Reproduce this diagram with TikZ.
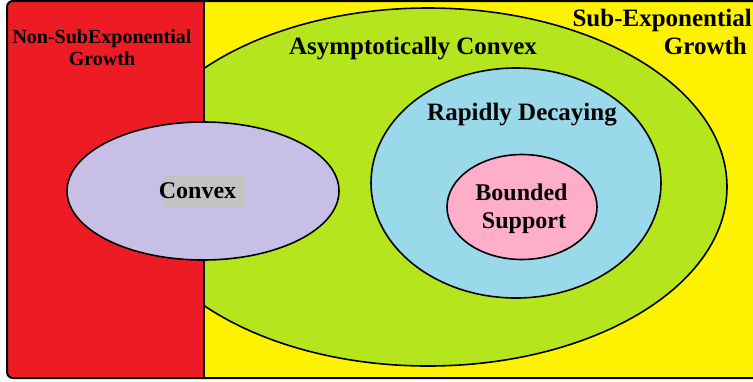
\documentclass[tikz,border=0pt]{standalone}
\usepackage{fontspec}
\setmainfont{Liberation Serif}
\usetikzlibrary{shapes.geometric}

\definecolor{nonred}{HTML}{ED1C24}
\definecolor{subyellow}{HTML}{FFF200}
\definecolor{asygreen}{HTML}{B5E61D}
\definecolor{rapidblue}{HTML}{99D9EA}
\definecolor{boundpink}{HTML}{FFAEC9}
\definecolor{convexlilac}{HTML}{C8BFE7}
\definecolor{boxgray}{HTML}{C3C3C3}

\tikzset{
	region/.style={ellipse, draw=black, line width=1.6pt, inner sep=0pt},
	setname/.style={font=\fontsize{24}{28}\selectfont\bfseries, anchor=base, inner sep=0pt},
	bigname/.style={setname, font=\fontsize{25}{28}\selectfont\bfseries}
}

\begin{document}
\begin{tikzpicture}[x=1pt,y=-1pt]
	\useasboundingbox (0,0) rectangle (753,381);
	
	% growth classes
	\fill[subyellow, rounded corners=6pt] (7,1) rectangle (775,378);
	\node[region, fill=asygreen, minimum width=598pt, minimum height=358pt] (asym) at (428,187) {};
	\fill[nonred] (204,1) [rounded corners=6pt] -- (7,1) -- (7,378) [sharp corners] -- (204,378) -- cycle;
	\draw[line width=1.6pt] (204,1) -- (204,378);
	\draw[line width=2pt, rounded corners=6pt] (7,1) rectangle (775,378);
	
	% inner classes
	\node[region, fill=convexlilac, minimum width=272pt, minimum height=138pt] (convex) at (203,191) {};
	\node[region, fill=rapidblue, minimum width=290pt, minimum height=230pt] (rapid) at (516,183) {};
	\node[region, fill=boundpink, minimum width=150pt, minimum height=105pt] (bound) at (522,207) {};
	\node[fill=boxgray, minimum width=82pt, minimum height=31pt, inner sep=0pt] (convexbox) at (205,191.5) {};
	
	% names
	\node[setname, font=\fontsize{20}{22}\selectfont\bfseries] (nonsubA) at (102,43) {Non-SubExponential};
	\node[setname, font=\fontsize{20}{22}\selectfont\bfseries] (nonsubB) at (102,65) {Growth};
	\node[bigname, anchor=base east] (subA) at (752,26) {Sub-Exponential};
	\node[bigname, anchor=base east] (subB) at (747,54) {Growth};
	\node[bigname] (asymtext) at (413,54) {Asymptotically Convex};
	\node[bigname] (rapidtext) at (522,120) {Rapidly Decaying};
	\node[setname] (convextext) at (197.5,198) {Convex};
	\node[setname] (boundA) at (521.5,200) {Bounded};
	\node[setname] (boundB) at (524,228) {Support};
\end{tikzpicture}
\end{document}
